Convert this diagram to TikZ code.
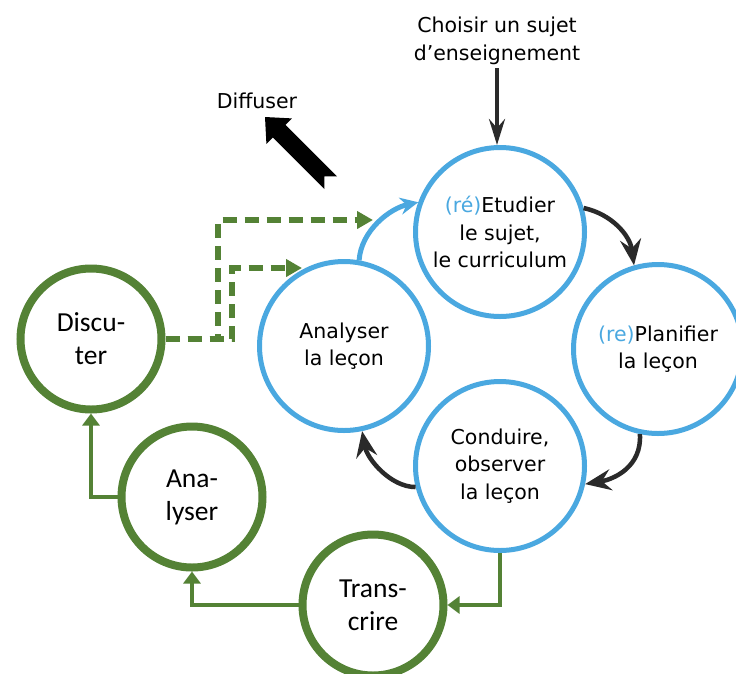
\documentclass[tikz,border=0pt]{standalone}
\usepackage{fontspec}
\setmainfont{DejaVu Sans}
\newfontfamily\calfont{Carlito}
\usetikzlibrary{arrows.meta}
\definecolor{cblue}{HTML}{4AA8E0}
\definecolor{cgreen}{HTML}{548235}
\definecolor{cdark}{HTML}{2A2A2A}
\begin{document}
\begin{tikzpicture}[x=1pt,y=-1pt,
  txt/.style={font=\fontsize{20.5}{27.5}\selectfont, align=center, text=black},
  gtxt/.style={font=\calfont\fontsize{27.5}{33}\selectfont, align=center, text=black},
  bluecirc/.style={circle, draw=cblue, line width=5pt, minimum size=169pt, inner sep=0pt, txt},
  greencirc/.style={circle, draw=cgreen, line width=8pt, minimum size=141pt, inner sep=0pt, gtxt},
  cyclearrow/.style={draw=cdark, line width=4.5pt, -{Stealth[length=26pt,width=21pt,inset=9pt]}},
  choisirarrow/.style={draw=cdark, line width=4pt, -{Stealth[length=26pt,width=16pt,inset=9pt]}},
  greenarrow/.style={draw=cgreen, line width=4.5pt, -{Triangle[length=12pt,width=17pt]}},
  dasharrow/.style={draw=cgreen, line width=6pt, dash pattern=on 14pt off 8pt, -{Triangle[length=16pt,width=17pt]}},
  bluearrow/.style={draw=cblue, line width=5pt, -{Stealth[length=18pt,width=17pt,inset=6pt]}},
]
\fill[white] (0,0) rectangle (736,673);
\useasboundingbox (0,0) rectangle (736,673);

% blue cycle
\node[bluecirc] (etud) at (500,232) {\textcolor{cblue}{(ré)}Etudier\\le sujet,\\le curriculum};
\node[bluecirc] (plan) at (658,349) {\textcolor{cblue}{(re)}Planifier\\la leçon};
\node[bluecirc] (cond) at (500,466) {Conduire,\\observer\\la leçon};
\node[bluecirc] (anal) at (344,346) {Analyser\\la leçon};

% green circles
\node[greencirc] (disc) at (91,339) {Discu-\\ter};
\node[greencirc] (ana2) at (192,497) {Ana-\\lyser};
\node[greencirc] (trans) at (373,605) {Trans-\\crire};

% top text
\node[txt] (choisir) at (497,41) {Choisir un sujet\\d’enseignement};
\node[txt] (diff) at (257,101) {Diffuser};

% input arrow
\draw[choisirarrow] (choisir.south) -- (choisir.south |- etud.north);

% cycle arrows
\draw[cyclearrow] (etud.16) .. controls +(28,6) and +(-4,-30) .. (plan.106);
\draw[cyclearrow] (plan.258) .. controls +(2,32) and +(30,-5) .. (cond.-12);
\draw[cyclearrow] (cond.194) .. controls +(-25,0) and +(5,28) .. (anal.-78);
\draw[bluearrow] (anal.80) .. controls +(2,-30) and +(-28,6) .. (etud.160);

% green arrows
\draw[greenarrow] (cond.south) |- (trans.east);
\draw[greenarrow] (trans.west) -| (ana2.south);
\draw[greenarrow] (ana2.west) -| (disc.south);

% dashed arrows
\coordinate (k1) at (218,220);
\coordinate (d1) at (373,220);
\coordinate (k2) at (232,268);
\coordinate (d2) at (302,268);
\draw[dasharrow] (disc.east) -| (k1) -- (d1);
\draw[dasharrow] (disc.east) -| (k2) -- (d2);

% Diffuser block arrow
\fill[black] (265,117) -- (266.4,143.9) -- (272.8,137.5) -- (324.4,189.1)
  -- (324.4,176.4) -- (337.1,176.4) -- (285.5,124.8) -- (291.9,118.4) -- cycle;
\end{tikzpicture}
\end{document}
